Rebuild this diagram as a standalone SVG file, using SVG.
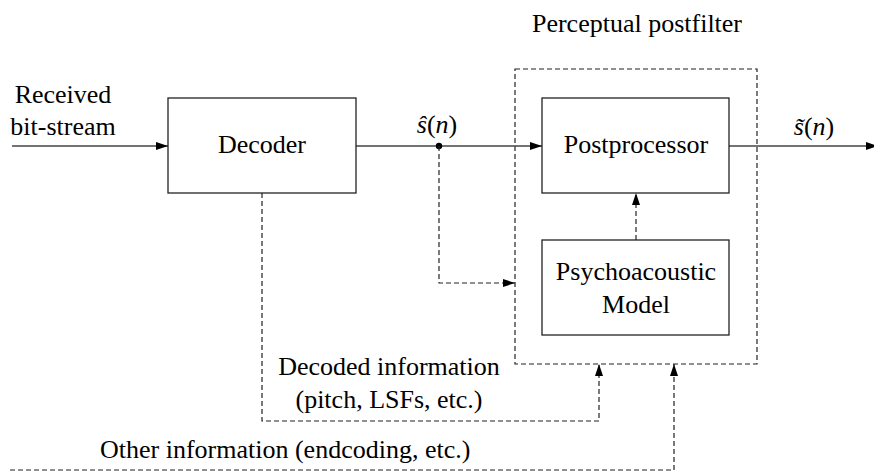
<svg xmlns="http://www.w3.org/2000/svg" width="874" height="472" viewBox="0 0 874 472" font-family="Liberation Serif, Times New Roman, serif" font-size="26">
  <style>
    .mid { text-anchor: middle; }
    .box { fill: #fff; stroke: #222; stroke-width: 1.3; }
    .wire { fill: none; stroke: #444; stroke-width: 1.4; }
    .dash { fill: none; stroke: #222; stroke-width: 1.2; stroke-dasharray: 5 3; }
  </style>
  <defs>
    <marker id="arrow" viewBox="0 0 12 8" refX="12" refY="4" markerWidth="12" markerHeight="8" markerUnits="userSpaceOnUse" orient="auto">
      <path d="M0,0 L12,4 L0,8 Z" fill="#000"/>
    </marker>
  </defs>

  <!-- perceptual postfilter enclosure -->
  <g id="postfilter">
    <text class="mid" x="637" y="32" font-family="Liberation Serif, Times New Roman, serif">Perceptual postfilter</text>
    <rect class="dash" x="515" y="69" width="242" height="295"/>
  </g>

  <g id="connectors">
    <!-- input bit-stream -->
    <line class="wire" x1="12" y1="146" x2="168" y2="146" marker-end="url(#arrow)"/>
    <!-- decoder output to postprocessor -->
    <line class="wire" x1="356" y1="146" x2="542" y2="146" marker-end="url(#arrow)"/>
    <circle cx="439" cy="146" r="3.2" fill="#000"/>
    <!-- postprocessor output -->
    <line class="wire" x1="729" y1="146" x2="878" y2="146" marker-end="url(#arrow)"/>
    <!-- tap from s-hat to psychoacoustic model -->
    <polyline class="dash" points="439,146 439,283 515,283" marker-end="url(#arrow)"/>
    <!-- psychoacoustic model to postprocessor -->
    <line class="dash" x1="636" y1="240" x2="636" y2="193" marker-end="url(#arrow)"/>
    <!-- decoded information -->
    <polyline class="dash" points="262,193 262,421 599,421 599,364" marker-end="url(#arrow)"/>
    <!-- other information -->
    <polyline class="dash" points="10,470 674,470 674,364" marker-end="url(#arrow)"/>
  </g>

  <g id="decoder">
    <rect class="box" x="168" y="98" width="188" height="95"/>
    <text class="mid" x="262" y="153" font-family="Liberation Serif, Times New Roman, serif">Decoder</text>
  </g>

  <g id="postprocessor">
    <rect class="box" x="542" y="98" width="187" height="95"/>
    <text class="mid" x="636" y="153" font-family="Liberation Serif, Times New Roman, serif">Postprocessor</text>
  </g>

  <g id="psychoacoustic-model">
    <rect class="box" x="542" y="240" width="187" height="95"/>
    <text class="mid" x="636" y="280" font-family="Liberation Serif, Times New Roman, serif">Psychoacoustic</text>
    <text class="mid" x="636" y="313" font-family="Liberation Serif, Times New Roman, serif">Model</text>
  </g>

  <!-- signal and information labels -->
  <g id="labels">
    <text class="mid" x="63" y="103" font-family="Liberation Serif, Times New Roman, serif">Received</text>
    <text class="mid" x="63" y="135" font-family="Liberation Serif, Times New Roman, serif">bit-stream</text>
    <text class="mid" x="437" y="133" font-family="Liberation Serif, Times New Roman, serif"><tspan font-style="italic">ŝ</tspan>(<tspan font-style="italic">n</tspan>)</text>
    <text class="mid" x="814" y="135" font-family="Liberation Serif, Times New Roman, serif"><tspan font-style="italic">s̃</tspan>(<tspan font-style="italic">n</tspan>)</text>
    <text class="mid" x="389" y="375" font-family="Liberation Serif, Times New Roman, serif">Decoded information</text>
    <text class="mid" x="389" y="408" font-family="Liberation Serif, Times New Roman, serif">(pitch, LSFs, etc.)</text>
    <text x="100" y="458" font-family="Liberation Serif, Times New Roman, serif">Other information (endcoding, etc.)</text>
  </g>
</svg>
